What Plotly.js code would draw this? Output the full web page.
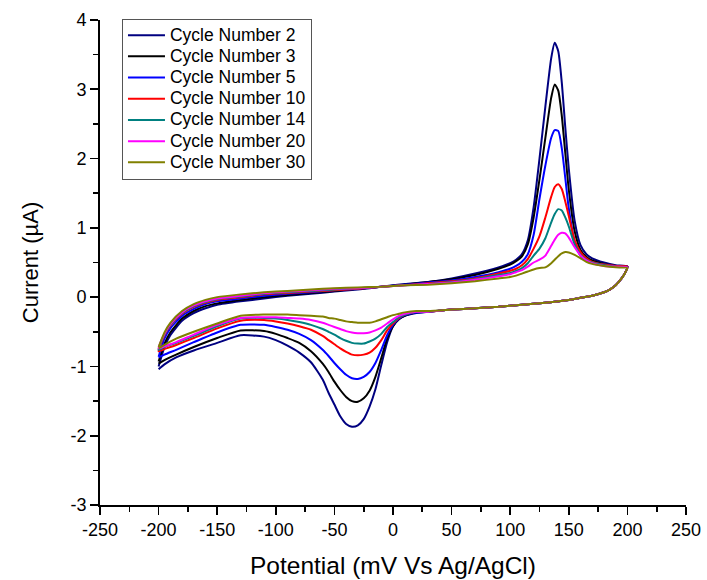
<!DOCTYPE html>
<html>
<head>
<meta charset="utf-8">
<script src="https://cdn.plot.ly/plotly-3.0.1.min.js"></script>
<style>
  html, body { margin: 0; padding: 0; background: #ffffff; }
  #chart { width: 707px; height: 580px; }
</style>
</head>
<body>
<div id="chart"></div>
<script>
// Potential grid (mV vs Ag/AgCl): forward (anodic) sweep then reverse (cathodic) sweep
const potentialForward = [-200, -195, -190, -180, -170, -160, -150, -130, -110, -90, -70, -50, -30, -10, 10, 30, 50, 70, 90, 100, 105, 110, 115, 120, 125, 130, 135, 138, 141, 144, 147, 150, 155, 160, 165, 170, 180, 190, 200];
const potentialReverse = [198, 195, 190, 185, 180, 170, 160, 150, 130, 110, 90, 70, 50, 30, 20, 10, 5, 0, -5, -10, -15, -20, -25, -30, -35, -40, -45, -50, -55, -60, -70, -80, -90, -100, -110, -130, -150, -170, -185, -195, -200];

const cycleLabels = ['Cycle Number 2', 'Cycle Number 3', 'Cycle Number 5', 'Cycle Number 10', 'Cycle Number 14', 'Cycle Number 20', 'Cycle Number 30'];
const cycleColors = ['#000080', '#000000', '#0000ff', '#ff0000', '#008080', '#ff00ff', '#808000'];

// Current (µA), forward sweep
const cycle2Forward  = [-1.00, -0.72, -0.55, -0.34, -0.23, -0.16, -0.11, -0.06, -0.02, 0.02, 0.05, 0.08, 0.11, 0.15, 0.19, 0.22, 0.27, 0.34, 0.43, 0.49, 0.54, 0.62, 0.82, 1.30, 2.00, 2.75, 3.45, 3.67, 3.55, 3.10, 2.45, 1.85, 1.10, 0.75, 0.62, 0.56, 0.50, 0.46, 0.44];
const cycle3Forward  = [-0.93, -0.67, -0.51, -0.31, -0.20, -0.13, -0.09, -0.04, 0.00, 0.03, 0.06, 0.09, 0.12, 0.15, 0.18, 0.22, 0.26, 0.32, 0.41, 0.47, 0.52, 0.59, 0.76, 1.15, 1.70, 2.30, 2.88, 3.07, 2.98, 2.62, 2.08, 1.55, 0.95, 0.68, 0.58, 0.53, 0.48, 0.45, 0.44];
const cycle5Forward  = [-0.86, -0.60, -0.45, -0.27, -0.17, -0.10, -0.06, -0.02, 0.02, 0.05, 0.07, 0.10, 0.12, 0.15, 0.18, 0.21, 0.24, 0.29, 0.36, 0.41, 0.45, 0.51, 0.62, 0.90, 1.42, 1.90, 2.30, 2.41, 2.40, 2.15, 1.72, 1.28, 0.80, 0.60, 0.53, 0.50, 0.47, 0.45, 0.44];
const cycle10Forward = [-0.78, -0.55, -0.41, -0.24, -0.14, -0.08, -0.04, 0.00, 0.04, 0.06, 0.08, 0.10, 0.12, 0.15, 0.17, 0.20, 0.23, 0.27, 0.34, 0.38, 0.41, 0.46, 0.55, 0.70, 0.88, 1.15, 1.45, 1.59, 1.63, 1.56, 1.38, 1.17, 0.82, 0.65, 0.56, 0.51, 0.47, 0.45, 0.44];
const cycle14Forward = [-0.76, -0.54, -0.40, -0.23, -0.13, -0.07, -0.03, 0.01, 0.05, 0.07, 0.09, 0.11, 0.13, 0.15, 0.17, 0.19, 0.22, 0.26, 0.32, 0.35, 0.38, 0.42, 0.49, 0.60, 0.70, 0.85, 1.08, 1.20, 1.27, 1.25, 1.15, 1.02, 0.76, 0.61, 0.54, 0.50, 0.46, 0.44, 0.43];
const cycle20Forward = [-0.74, -0.53, -0.39, -0.22, -0.12, -0.06, -0.02, 0.02, 0.06, 0.08, 0.10, 0.12, 0.13, 0.15, 0.17, 0.19, 0.21, 0.25, 0.30, 0.33, 0.36, 0.39, 0.44, 0.50, 0.54, 0.60, 0.74, 0.83, 0.90, 0.93, 0.92, 0.86, 0.72, 0.60, 0.53, 0.49, 0.45, 0.44, 0.43];
const cycle30Forward = [-0.72, -0.51, -0.37, -0.20, -0.10, -0.04, 0.00, 0.04, 0.07, 0.09, 0.11, 0.13, 0.14, 0.15, 0.17, 0.18, 0.20, 0.23, 0.27, 0.29, 0.31, 0.34, 0.37, 0.40, 0.42, 0.43, 0.49, 0.54, 0.59, 0.63, 0.65, 0.645, 0.61, 0.56, 0.51, 0.48, 0.45, 0.43, 0.42];

// Current (µA), reverse sweep
const cycle2Reverse  = [0.35, 0.27, 0.17, 0.11, 0.07, 0.02, -0.01, -0.04, -0.08, -0.11, -0.14, -0.16, -0.18, -0.21, -0.23, -0.27, -0.32, -0.42, -0.65, -0.98, -1.33, -1.58, -1.76, -1.85, -1.87, -1.83, -1.72, -1.55, -1.38, -1.19, -0.94, -0.80, -0.70, -0.62, -0.57, -0.55, -0.66, -0.77, -0.87, -0.97, -1.04];
const cycle3Reverse  = [0.35, 0.27, 0.17, 0.11, 0.07, 0.02, -0.01, -0.04, -0.08, -0.11, -0.14, -0.16, -0.18, -0.21, -0.22, -0.27, -0.32, -0.42, -0.60, -0.88, -1.15, -1.35, -1.46, -1.51, -1.50, -1.44, -1.34, -1.22, -1.08, -0.96, -0.78, -0.66, -0.59, -0.53, -0.49, -0.48, -0.59, -0.72, -0.83, -0.91, -0.96];
const cycle5Reverse  = [0.35, 0.27, 0.17, 0.11, 0.07, 0.02, -0.01, -0.04, -0.08, -0.11, -0.14, -0.16, -0.18, -0.21, -0.22, -0.26, -0.31, -0.40, -0.55, -0.76, -0.95, -1.08, -1.15, -1.18, -1.17, -1.12, -1.04, -0.95, -0.85, -0.76, -0.62, -0.53, -0.47, -0.43, -0.40, -0.40, -0.51, -0.65, -0.76, -0.83, -0.87];
const cycle10Reverse = [0.35, 0.27, 0.17, 0.11, 0.07, 0.02, -0.01, -0.04, -0.08, -0.11, -0.14, -0.16, -0.18, -0.21, -0.21, -0.25, -0.30, -0.38, -0.48, -0.62, -0.73, -0.80, -0.83, -0.84, -0.83, -0.79, -0.74, -0.68, -0.62, -0.56, -0.47, -0.42, -0.38, -0.35, -0.33, -0.34, -0.45, -0.59, -0.69, -0.75, -0.78];
const cycle14Reverse = [0.35, 0.27, 0.17, 0.11, 0.07, 0.02, -0.01, -0.04, -0.08, -0.11, -0.14, -0.16, -0.18, -0.21, -0.21, -0.25, -0.29, -0.36, -0.43, -0.53, -0.60, -0.64, -0.67, -0.67, -0.66, -0.63, -0.59, -0.54, -0.50, -0.46, -0.40, -0.36, -0.33, -0.31, -0.30, -0.31, -0.42, -0.56, -0.66, -0.72, -0.76];
const cycle20Reverse = [0.35, 0.27, 0.17, 0.11, 0.07, 0.02, -0.01, -0.04, -0.08, -0.11, -0.14, -0.16, -0.18, -0.21, -0.21, -0.24, -0.27, -0.32, -0.38, -0.44, -0.48, -0.51, -0.52, -0.52, -0.51, -0.49, -0.46, -0.43, -0.40, -0.37, -0.33, -0.31, -0.30, -0.29, -0.29, -0.30, -0.40, -0.54, -0.65, -0.71, -0.74];
const cycle30Reverse = [0.35, 0.27, 0.17, 0.11, 0.07, 0.02, -0.01, -0.04, -0.08, -0.11, -0.14, -0.16, -0.18, -0.20, -0.20, -0.22, -0.24, -0.26, -0.29, -0.32, -0.35, -0.37, -0.37, -0.37, -0.36, -0.35, -0.33, -0.31, -0.30, -0.28, -0.27, -0.26, -0.25, -0.25, -0.25, -0.27, -0.38, -0.50, -0.60, -0.69, -0.74];

const forwardSeries = [cycle2Forward, cycle3Forward, cycle5Forward, cycle10Forward, cycle14Forward, cycle20Forward, cycle30Forward];
const reverseSeries = [cycle2Reverse, cycle3Reverse, cycle5Reverse, cycle10Reverse, cycle14Reverse, cycle20Reverse, cycle30Reverse];

const xTickVals = [-250, -200, -150, -100, -50, 0, 50, 100, 150, 200, 250];
const yTickVals = [-3, -2, -1, 0, 1, 2, 3, 4];

const FONT = '"Liberation Sans", Arial, sans-serif';

const traces = cycleLabels.map((label, i) => ({
  type: 'scatter',
  mode: 'lines',
  name: '<span style="font-size:17.5px">' + label + '</span>',
  x: potentialForward.concat(potentialReverse),
  y: forwardSeries[i].concat(reverseSeries[i]),
  line: { color: cycleColors[i], width: 2, shape: 'spline', smoothing: 0.6 },
  hoverinfo: 'x+y+name'
}));

const axisCommon = {
  showgrid: false,
  zeroline: false,
  showline: true,
  linecolor: '#000',
  linewidth: 1.8,
  ticks: 'outside',
  ticklen: 8,
  tickwidth: 1.6,
  tickcolor: '#000',
  tickfont: { family: FONT, size: 18, color: '#000' },
  mirror: false
};

const layout = {
  width: 707,
  height: 580,
  margin: { l: 100, r: 21, t: 20, b: 75 },
  paper_bgcolor: '#ffffff',
  plot_bgcolor: '#ffffff',
  showlegend: true,
  legend: {
    x: 0.0375, y: 1.003, xanchor: 'left', yanchor: 'top',
    bgcolor: 'rgba(255,255,255,0)',
    bordercolor: '#555',
    borderwidth: 1,
    font: { family: FONT, size: 14, color: '#000' },
    itemwidth: 37,
    traceorder: 'normal'
  },
  xaxis: Object.assign({}, axisCommon, {
    range: [-250, 250],
    tickvals: xTickVals,
    ticktext: xTickVals.map(String),
    minor: { dtick: 25, tick0: 0, ticks: 'outside', ticklen: 5, tickwidth: 1.6, tickcolor: '#000' },
    title: { text: 'Potential (mV Vs Ag/AgCl)', font: { family: FONT, size: 24.5, color: '#000' }, standoff: 17 }
  }),
  yaxis: Object.assign({}, axisCommon, {
    range: [-3, 4],
    tickvals: yTickVals,
    ticktext: yTickVals.map(String),
    minor: { dtick: 0.5, tick0: 0, ticks: 'outside', ticklen: 5, tickwidth: 1.6, tickcolor: '#000' },
    title: { text: 'Current (µA)', font: { family: FONT, size: 22, color: '#000' }, standoff: 26 }
  })
};

Plotly.newPlot('chart', traces, layout, { displayModeBar: false, staticPlot: true });
</script>
</body>
</html>
